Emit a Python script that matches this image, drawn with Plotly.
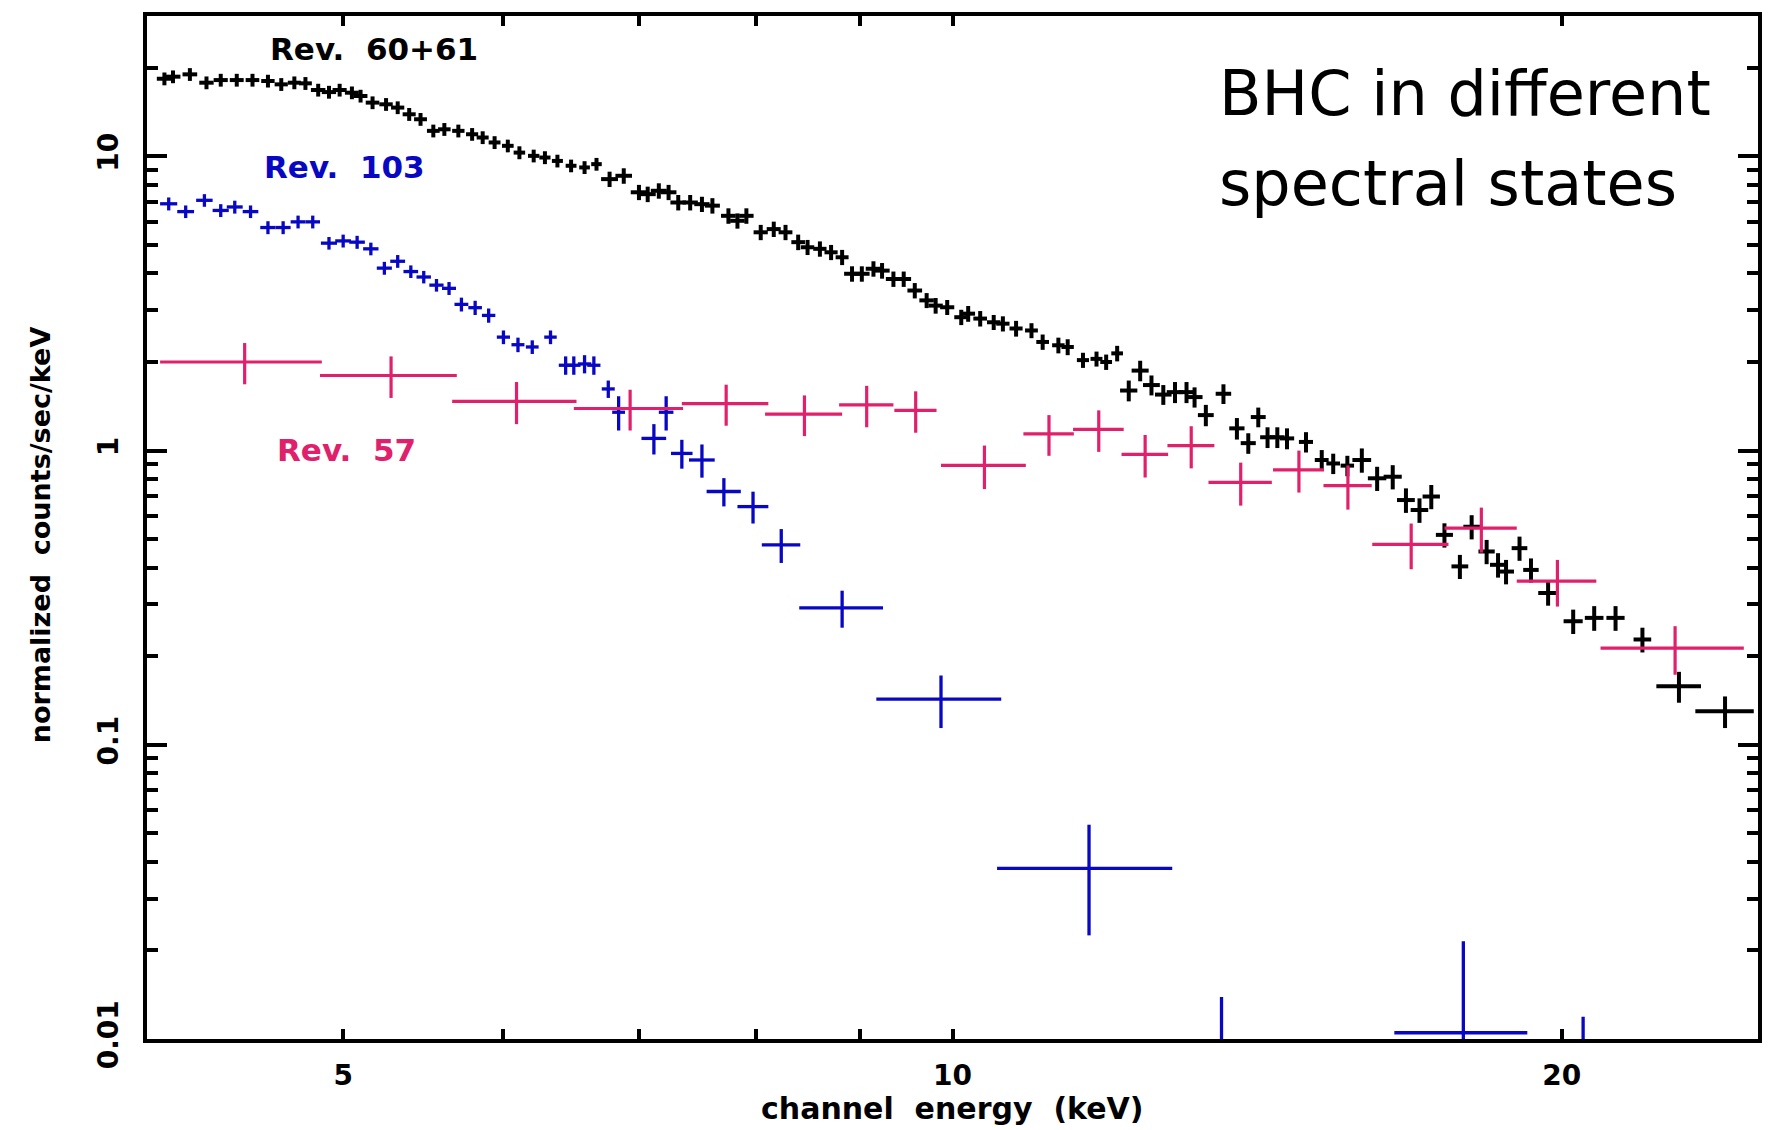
import math
import plotly.graph_objects as go

# ---------------- data ----------------
# Rev. 60+61 (black)
E_black = [4.08, 4.12, 4.20, 4.28, 4.35, 4.43, 4.51, 4.59, 4.66, 4.73,
           4.79, 4.86, 4.92, 4.98, 5.05, 5.10, 5.17, 5.25, 5.32, 5.39,
           5.46, 5.54, 5.61, 5.70, 5.79, 5.86, 5.94, 6.03, 6.11, 6.21,
           6.29, 6.38, 6.48, 6.58, 6.67, 6.77, 6.88, 7.00, 7.07, 7.16,
           7.24, 7.32, 7.42, 7.52, 7.61, 7.75, 7.83, 7.91, 8.04, 8.16,
           8.27, 8.39, 8.48, 8.60, 8.71, 8.82, 8.92, 9.02, 9.14, 9.23,
           9.35, 9.46, 9.58, 9.71, 9.81, 9.94, 10.10, 10.18, 10.32, 10.48,
           10.59, 10.75, 10.94, 11.08, 11.28, 11.40, 11.60, 11.78, 11.91, 12.06,
           12.22, 12.38, 12.54, 12.71, 12.88, 13.05, 13.17, 13.34, 13.61, 13.82,
           14.00, 14.16, 14.31, 14.47, 14.63, 14.95, 15.22, 15.42, 15.67, 15.93,
           16.21, 16.50, 16.75, 17.01, 17.24, 17.50, 17.81, 18.05, 18.36, 18.60,
           18.77, 19.06, 19.31, 19.69, 20.26, 20.75, 21.26, 21.92, 22.85, 24.08]
V_black = [18.36, 18.66, 19.00, 17.80, 18.17, 18.17, 18.17, 18.04, 17.57, 17.80,
           17.71, 16.81, 16.54, 16.81, 16.46, 16.04, 15.23, 15.03, 14.65, 13.90,
           13.37, 12.21, 12.36, 12.21, 11.89, 11.59, 11.15, 10.86, 10.30, 10.04,
           9.91, 9.65, 9.29, 9.17, 9.41, 8.37, 8.59, 7.55, 7.44, 7.64,
           7.55, 6.97, 6.97, 6.88, 6.80, 6.28, 6.04, 6.28, 5.52, 5.66,
           5.52, 5.11, 4.91, 4.85, 4.72, 4.54, 3.99, 3.99, 4.15, 4.09,
           3.83, 3.83, 3.50, 3.24, 3.11, 3.07, 2.84, 2.92, 2.81, 2.73,
           2.70, 2.60, 2.56, 2.34, 2.28, 2.25, 2.03, 2.05, 2.00, 2.14,
           1.60, 1.87, 1.67, 1.55, 1.58, 1.58, 1.52, 1.32, 1.56, 1.19,
           1.06, 1.30, 1.11, 1.11, 1.10, 1.07, 0.929, 0.904, 0.889, 0.929,
           0.805, 0.815, 0.679, 0.628, 0.698, 0.517, 0.404, 0.551, 0.454, 0.409,
           0.388, 0.466, 0.393, 0.328, 0.263, 0.270, 0.270, 0.228, 0.158, 0.130]
XERR_black = ([0.035] * 11 + [0.04] * 24 + [0.065] * 21 + [0.08] * 24 +
              [0.12] * 19 + [0.17] * 14 + [0.22] * 5 + [0.58, 0.80])
YERR_black = [0.92, 0.93, 0.95, 0.89, 0.91, 0.91, 0.91, 0.90, 0.88, 0.89,
              0.89, 0.84, 0.83, 0.84, 0.82, 0.80, 0.76, 0.75, 0.73, 0.70,
              0.67, 0.61, 0.62, 0.61, 0.59, 0.58, 0.56, 0.54, 0.52, 0.50,
              0.50, 0.48, 0.46, 0.46, 0.47, 0.50, 0.52, 0.45, 0.45, 0.46,
              0.45, 0.42, 0.42, 0.41, 0.41, 0.38, 0.36, 0.38, 0.33, 0.34,
              0.33, 0.31, 0.29, 0.29, 0.28, 0.27, 0.24, 0.24, 0.25, 0.25,
              0.23, 0.23, 0.21, 0.19, 0.19, 0.18, 0.17, 0.18, 0.17, 0.16,
              0.16, 0.16, 0.15, 0.14, 0.14, 0.14, 0.12, 0.12, 0.12, 0.13,
              0.13, 0.15, 0.13, 0.12, 0.13, 0.13, 0.12, 0.11, 0.12, 0.10,
              0.085, 0.10, 0.09, 0.09, 0.09, 0.085, 0.075, 0.072, 0.071, 0.088,
              0.076, 0.077, 0.065, 0.060, 0.066, 0.049, 0.038, 0.052, 0.043, 0.039,
              0.037, 0.044, 0.037, 0.031, 0.025, 0.026, 0.026, 0.022, 0.019, 0.016]

# Rev. 103 (blue)
E_blue = [4.10, 4.18, 4.27, 4.35, 4.42, 4.50, 4.59, 4.67, 4.75, 4.83,
          4.92, 5.00, 5.08, 5.16, 5.24, 5.32, 5.40, 5.48, 5.56, 5.64,
          5.72, 5.81, 5.90, 6.00, 6.10, 6.20, 6.33, 6.44, 6.50, 6.58,
          6.65, 6.76, 6.84, 7.12, 7.22, 7.35, 7.52, 7.71, 7.97, 8.23,
          8.82, 9.87, 11.68, 13.58, 17.88, 20.49]
V_blue = [6.90, 6.49, 7.09, 6.55, 6.73, 6.49, 5.73, 5.73, 5.99, 5.99,
          5.07, 5.16, 5.11, 4.85, 4.17, 4.40, 4.06, 3.89, 3.65, 3.56,
          3.14, 3.06, 2.88, 2.43, 2.29, 2.25, 2.43, 1.95, 1.95, 1.97,
          1.95, 1.62, 1.35, 1.10, 1.35, 0.978, 0.929, 0.726, 0.645, 0.478,
          0.292, 0.143, 0.038, 0.005, 0.0105, 0.004]
XERR_blue = ([0.04] * 10 + [0.045] * 17 + [0.05] * 6 +
             [0.10, 0.06, 0.09, 0.11, 0.15, 0.14, 0.18] +
             [0.42, 0.70, 1.16, 0.70, 1.35, 1.20])
YERR_blue = [0.35, 0.32, 0.35, 0.33, 0.34, 0.32, 0.29, 0.29, 0.30, 0.30,
             0.25, 0.26, 0.26, 0.24, 0.21, 0.22, 0.20, 0.19, 0.18, 0.18,
             0.17, 0.17, 0.16, 0.13, 0.13, 0.12, 0.13, 0.14, 0.14, 0.14,
             0.14, 0.11, 0.18, 0.13, 0.18, 0.11, 0.12, 0.08, 0.08, 0.063,
             0.042, 0.029, 0.0155, 0.0089, 0.011, 0.0079]

# Rev. 57 (pink)
E_pink = [4.47, 5.28, 6.09, 6.93, 7.73, 8.45, 9.07, 9.59, 10.37, 11.16,
          11.81, 12.45, 13.12, 13.88, 14.83, 15.68, 16.85, 18.25, 19.90, 22.75]
V_pink = [2.00, 1.80, 1.47, 1.39, 1.445, 1.33, 1.43, 1.37, 0.89, 1.14,
          1.18, 0.97, 1.04, 0.78, 0.86, 0.76, 0.48, 0.545, 0.36, 0.213]
XERR_pink = [0.41, 0.41, 0.43, 0.43, 0.38, 0.37, 0.28, 0.23, 0.50, 0.32,
             0.34, 0.33, 0.35, 0.50, 0.43, 0.43, 0.73, 0.75, 0.90, 1.85]
YERR_pink = [0.32, 0.29, 0.24, 0.22, 0.23, 0.21, 0.23, 0.22, 0.15, 0.18,
             0.19, 0.16, 0.17, 0.13, 0.14, 0.13, 0.085, 0.095, 0.065, 0.04]

X_TICKS = [5, 10, 20]
X_MINOR = [6, 7, 8, 9]
Y_TICKS = [0.01, 0.1, 1, 10]
Y_TICKTEXT = ["0.01", "0.1", "1", "10"]
Y_MINOR = [m * d for d in (0.01, 0.1, 1) for m in range(2, 10)] + [20]

BLACK = "#000000"
BLUE = "#0808c4"
PINK = "#e0206a"
FONT = "DejaVu Sans"

fig = go.Figure()


def add_series(E, V, ex, ey, color, width, name):
    fig.add_trace(go.Scatter(
        x=E, y=V, mode="markers", name=name, showlegend=False, hoverinfo="skip",
        marker=dict(size=1, color=color, opacity=0),
        error_x=dict(type="data", array=ex, symmetric=True, width=0,
                     thickness=width, color=color),
        error_y=dict(type="data", array=ey, symmetric=True, width=0,
                     thickness=width, color=color),
    ))


add_series(E_black, V_black, XERR_black, YERR_black, BLACK, 4, "Rev. 60+61")
add_series(E_blue, V_blue, XERR_blue, YERR_blue, BLUE, 3.3, "Rev. 103")
add_series(E_pink, V_pink, XERR_pink, YERR_pink, PINK, 3.2, "Rev. 57")

xrange = [math.log10(4), math.log10(25)]
yrange = [-2, math.log10(30)]

fig.update_layout(
    width=1774, height=1130,
    margin=dict(l=147, r=12, t=15, b=91, pad=0),
    paper_bgcolor="white", plot_bgcolor="white",
    showlegend=False,
    font=dict(family=FONT, size=30, color="black"),
    xaxis=dict(
        type="log", range=xrange, showgrid=False, zeroline=False,
        showline=True, linecolor="black", linewidth=4, mirror="allticks",
        ticks="inside", ticklen=10, tickwidth=3.5, tickcolor="black",
        tickvals=X_TICKS, ticktext=[str(v) for v in X_TICKS],
        tickfont=dict(family=FONT, size=28, color="black", weight="bold"),
        ticklabelstandoff=8,
        minor=dict(tickvals=X_MINOR, ticks="inside", ticklen=10, tickwidth=3.5,
                   tickcolor="black", showgrid=False),
    ),
    xaxis2=dict(
        type="log", range=xrange, overlaying="x", anchor="y", side="bottom",
        showgrid=False, zeroline=False, showline=True, linecolor="black",
        linewidth=4, mirror="ticks", ticks="inside", ticklen=17, tickwidth=3.5,
        tickcolor="black", tickvals=[10], showticklabels=False,
    ),
    yaxis=dict(
        type="log", range=yrange, showgrid=False, zeroline=False,
        showline=True, linecolor="black", linewidth=4, mirror="allticks",
        ticks="inside", ticklen=20, tickwidth=3.5, tickcolor="black",
        tickvals=Y_TICKS, ticktext=Y_TICKTEXT, tickangle=-90,
        tickfont=dict(family=FONT, size=28, color="black", weight="bold"),
        ticklabelstandoff=14,
        minor=dict(tickvals=Y_MINOR, ticks="inside", ticklen=11, tickwidth=3.5,
                   tickcolor="black", showgrid=False),
    ),
)

labels = [
    ("Rev.  60+61", BLACK, 0.0749, 0.968),
    ("Rev.  103", BLUE, 0.0715, 0.852),
    ("Rev.  57", PINK, 0.0793, 0.576),
]
for text, color, x, y in labels:
    fig.add_annotation(text=text, x=x, y=y, xref="paper", yref="paper",
                       xanchor="left", yanchor="middle", showarrow=False,
                       font=dict(family=FONT, size=31, color=color, weight="bold"))

fig.add_annotation(text="BHC in different", x=0.664, y=0.924, xref="paper",
                   yref="paper", xanchor="left", yanchor="middle", showarrow=False,
                   font=dict(family=FONT, size=62, color="black"))
fig.add_annotation(text="spectral states", x=0.664, y=0.836, xref="paper",
                   yref="paper", xanchor="left", yanchor="middle", showarrow=False,
                   font=dict(family=FONT, size=62, color="black"))

fig.add_annotation(text="channel  energy  (keV)", x=0.5, y=-0.068, xref="paper",
                   yref="paper", xanchor="center", yanchor="middle", showarrow=False,
                   font=dict(family=FONT, size=30, color="black", weight="bold"))
fig.add_annotation(text="normalized  counts/sec/keV", x=-0.066, y=0.493,
                   xref="paper", yref="paper", xanchor="center", yanchor="middle",
                   textangle=-90, showarrow=False,
                   font=dict(family=FONT, size=27, color="black", weight="bold"))

fig.write_html("out.html")
